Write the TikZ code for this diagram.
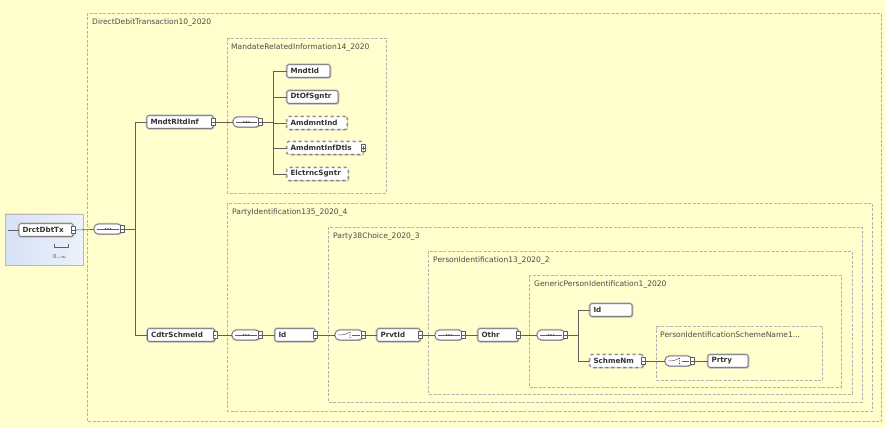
\documentclass[tikz,border=0pt]{standalone}
\usepackage{fontspec}
\setmainfont{DejaVu Sans}
\usetikzlibrary{shadows}

\definecolor{bgyellow}{RGB}{255,254,204}
\definecolor{rootblue}{RGB}{214,226,246}
\definecolor{lineg}{RGB}{95,95,95}

\tikzset{
  elembox/.style={draw=lineg, fill=white, line width=0.6bp, rounded corners=1.5bp,
    text width=#1-7bp, align=left, minimum height=12.5bp, inner xsep=3.5bp, inner ysep=1bp,
    font=\fontsize{7.2}{8}\selectfont\bfseries, text=black!80,
    preaction={draw=gray!45, line width=2.6bp},
    drop shadow={shadow xshift=1.2bp, shadow yshift=-1.2bp, opacity=0.35}},
  optbox/.style={elembox=#1, dashed},
  compo/.style={draw=lineg, fill=white, line width=0.6bp, rounded corners=4.5bp,
    minimum width=#1, minimum height=10bp, inner sep=0,
    preaction={draw=gray!45, line width=2bp},
    drop shadow={shadow xshift=1bp, shadow yshift=-1bp, opacity=0.3}},
  seqbox/.style={compo=#1, path picture={
    \draw[lineg, line width=0.5bp] ([xshift=3bp]path picture bounding box.west) -- ([xshift=-3bp]path picture bounding box.east);
    \foreach \dx in {-2.6,0,2.6}
      \fill[black!75] ([xshift=\dx bp]path picture bounding box.center) circle (0.85bp);}},
  choicebox/.style={compo=#1, path picture={
    \draw[lineg, line width=0.5bp] ([xshift=3bp]path picture bounding box.west) -- ([xshift=-3.5bp]path picture bounding box.center)
      -- ([xshift=-0.5bp, yshift=2bp]path picture bounding box.center);
    \draw[lineg, line width=0.5bp] ([xshift=3bp]path picture bounding box.center) -- ([xshift=-3bp]path picture bounding box.east);
    \foreach \dy in {-2.4,0,2.4}
      \fill[black!75] ([xshift=1bp, yshift=\dy bp]path picture bounding box.center) circle (0.65bp);}},
  tabbox/.style={draw=lineg, fill=white, line width=0.4bp, minimum width=4bp,
    minimum height=7bp, inner sep=0, label distance=-2bp},
  expand/.style={label={[tabbox, path picture={\draw[line width=0.4bp]
    ([xshift=0.8bp]path picture bounding box.west) -- ([xshift=-0.8bp]path picture bounding box.east);}]0:{}}},
  expandplus/.style={label={[tabbox, path picture={\draw[line width=0.4bp]
    ([xshift=0.8bp]path picture bounding box.west) -- ([xshift=-0.8bp]path picture bounding box.east)
    ([yshift=1.2bp]path picture bounding box.south) -- ([yshift=-1.2bp]path picture bounding box.north);}]0:{}}},
  grp/.style={draw=gray!60, dash pattern=on 3bp off 1.5bp, line width=0.5bp},
  grplabel/.style={font=\fontsize{7.6}{8}\selectfont, text=gray!60!black, anchor=north west, inner sep=1bp},
  conn/.style={draw=lineg, line width=0.6bp},
}

\begin{document}
\begin{tikzpicture}[line join=bevel]
%%
\fill[bgyellow] (0bp,0bp) rectangle (885bp,428bp);
\useasboundingbox (0bp,0bp) rectangle (885bp,428bp);
%% groups
\draw[grp] (87bp,415bp) rectangle (881bp,7bp);
\node[grplabel] (lbl_ddt) at (91bp,410bp) {DirectDebitTransaction10\_2020};
\draw[grp] (227bp,390bp) rectangle (386bp,235bp);
\node[grplabel] (lbl_mri) at (230bp,385bp) {MandateRelatedInformation14\_2020};
\draw[grp] (227bp,225bp) rectangle (872bp,17bp);
\node[grplabel] (lbl_pi) at (231bp,220bp) {PartyIdentification135\_2020\_4};
\draw[grp] (328bp,201bp) rectangle (862bp,26bp);
\node[grplabel] (lbl_pc) at (332bp,196bp) {Party38Choice\_2020\_3};
\draw[grp] (428bp,177bp) rectangle (852bp,34bp);
\node[grplabel] (lbl_pid) at (432bp,172bp) {PersonIdentification13\_2020\_2};
\draw[grp] (529bp,153bp) rectangle (841bp,41bp);
\node[grplabel] (lbl_gpi) at (533bp,148bp) {GenericPersonIdentification1\_2020};
\draw[grp] (656bp,102bp) rectangle (822bp,48bp);
\node[grplabel] (lbl_sn) at (659bp,97bp) {PersonIdentificationSchemeName1...};
%% root
\draw[draw=gray!55, left color=rootblue, right color=rootblue!45] (5bp,214bp) rectangle (83bp,163bp);
\node (node_DrctDbtTx) at (46bp,198bp) [elembox=54bp, expand] {DrctDbtTx};
\coordinate (node_in) at (8bp,198bp);
\draw[lineg, line width=0.4bp] (54bp,184bp) -- (54bp,181bp) -- (68bp,181bp) -- (68bp,184bp);
\node (node_occ) at (60bp,171bp) [font=\fontsize{5.5}{6}\selectfont, text=black!70, inner sep=0] {0..$\infty$};
\node (node_seq0) at (108bp,199bp) [seqbox=28bp, expand] {};
%% mandate branch
\node (node_MndtRltdInf) at (180bp,306bp) [elembox=66bp, expand] {MndtRltdInf};
\node (node_seq1) at (246.5bp,306bp) [seqbox=27bp, expand] {};
\node (node_MndtId) at (308.5bp,357bp) [elembox=43bp] {MndtId};
\node (node_DtOfSgntr) at (312.5bp,331bp) [elembox=51bp] {DtOfSgntr};
\node (node_AmdmntInd) at (317bp,305bp) [optbox=60bp] {AmdmntInd};
\node (node_AmdmntInfDtls) at (325bp,280bp) [optbox=76bp, expandplus] {AmdmntInfDtls};
\node (node_ElctrncSgntr) at (317.5bp,254bp) [optbox=61bp] {ElctrncSgntr};
%% creditor scheme branch
\node (node_CdtrSchmeId) at (181bp,93bp) [elembox=67bp, expand] {CdtrSchmeId};
\node (node_seq2) at (246bp,93bp) [seqbox=28bp, expand] {};
\node (node_Id) at (295bp,93bp) [elembox=40bp, expand] {Id};
\node (node_choice0) at (349bp,93bp) [choicebox=28bp, expand] {};
\node (node_PrvtId) at (398.5bp,93bp) [elembox=43bp, expand] {PrvtId};
\node (node_seq3) at (449bp,93bp) [seqbox=28bp, expand] {};
\node (node_Othr) at (498bp,93bp) [elembox=40bp, expand] {Othr};
\node (node_seq4) at (551bp,93bp) [seqbox=28bp, expand] {};
\node (node_Id1) at (611bp,118bp) [elembox=42bp] {Id};
\node (node_SchmeNm) at (616.5bp,67bp) [optbox=53bp, expand] {SchmeNm};
\node (node_choice1) at (678.5bp,67bp) [choicebox=27bp, expand] {};
\node (node_Prtry) at (728bp,67bp) [elembox=40bp] {Prtry};
%% connectors
\draw[conn] (node_in) -- (node_DrctDbtTx);
\draw[conn] ([xshift=2bp]node_DrctDbtTx.east) -- (node_seq0);
\draw[conn] ([xshift=2bp]node_seq0.east) -- (135bp,199bp) |- (node_MndtRltdInf);
\draw[conn] (135bp,199bp) |- (node_CdtrSchmeId);
\draw[conn] ([xshift=2bp]node_MndtRltdInf.east) -- (node_seq1);
\draw[conn] ([xshift=2bp]node_seq1.east) -- (273bp,306bp);
\foreach \n in {MndtId,DtOfSgntr,AmdmntInd,AmdmntInfDtls,ElctrncSgntr}
  \draw[conn] (273bp,306bp) |- (node_\n);
\draw[conn] ([xshift=2bp]node_CdtrSchmeId.east) -- (node_seq2);
\draw[conn] ([xshift=2bp]node_seq2.east) -- (node_Id);
\draw[conn] ([xshift=2bp]node_Id.east) -- (node_choice0);
\draw[conn] ([xshift=2bp]node_choice0.east) -- (node_PrvtId);
\draw[conn] ([xshift=2bp]node_PrvtId.east) -- (node_seq3);
\draw[conn] ([xshift=2bp]node_seq3.east) -- (node_Othr);
\draw[conn] ([xshift=2bp]node_Othr.east) -- (node_seq4);
\draw[conn] ([xshift=2bp]node_seq4.east) -- (578bp,93bp) |- (node_Id1);
\draw[conn] (578bp,93bp) |- (node_SchmeNm);
\draw[conn] ([xshift=2bp]node_SchmeNm.east) -- (node_choice1);
\draw[conn] ([xshift=2bp]node_choice1.east) -- (node_Prtry);
%
\end{tikzpicture}
\end{document}
